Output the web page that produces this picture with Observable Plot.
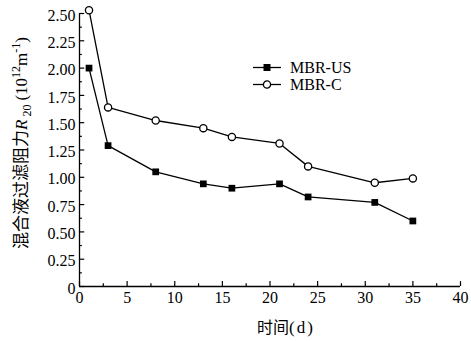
<!DOCTYPE html>
<html>
<head>
<meta charset="utf-8">
<script src="https://cdn.jsdelivr.net/npm/d3@7"></script>
<script src="https://cdn.jsdelivr.net/npm/@observablehq/plot@0.6"></script>
<style>
  html, body { margin: 0; padding: 0; background: #fff; }
  #chart { width: 471px; height: 341px; }
</style>
</head>
<body>
<div id="chart"></div>
<script>
const days = [1, 3, 8, 13, 16, 21, 24, 31, 35];
const mbrUS = [2.00, 1.29, 1.05, 0.94, 0.90, 0.94, 0.82, 0.77, 0.60];
const mbrC = [2.53, 1.64, 1.52, 1.45, 1.37, 1.31, 1.10, 0.95, 0.99];
const seriesNames = ["MBR-US", "MBR-C"];
const xTicks = [0, 5, 10, 15, 20, 25, 30, 35, 40];
const xMinorTicks = [2.5, 7.5, 12.5, 17.5, 22.5, 27.5, 32.5, 37.5];
const yTicks = [0, 0.25, 0.5, 0.75, 1.0, 1.25, 1.5, 1.75, 2.0, 2.25, 2.5];
const yMinorTicks = [0.125, 0.375, 0.625, 0.875, 1.125, 1.375, 1.625, 1.875, 2.125, 2.375];
const xTitleCJK = "时间";
const xTitleUnit = "(d)";

const us = days.map((d, i) => ({day: d, value: mbrUS[i]}));
const c = days.map((d, i) => ({day: d, value: mbrC[i]}));

const serif = "'Liberation Serif', 'Times New Roman', serif";
const cjk = "'Noto Sans CJK SC', sans-serif";

const plot = Plot.plot({
  width: 471,
  height: 341,
  marginLeft: 79,
  marginRight: 11,
  marginTop: 13,
  marginBottom: 55,
  style: {fontFamily: serif, fontSize: "16px", color: "#000", background: "#fff", overflow: "visible"},
  x: {domain: [0, 40]},
  y: {domain: [0, 2.5]},
  marks: [
    Plot.axisX({ticks: xTicks, tickSize: 0, tickPadding: 5, label: null, fontSize: 16, fill: "#000"}),
    Plot.axisY({ticks: yTicks, tickSize: 0, tickPadding: 4, label: null, fontSize: 16, fill: "#000",
      tickFormat: d => d === 0 ? "0" : d.toFixed(2), dy: 2}),
    Plot.ruleX(xTicks, {x: d => d, y1: 0, y2: 0.045, stroke: "#000", strokeWidth: 1.2}),
    Plot.ruleX(xMinorTicks, {x: d => d, y1: 0, y2: 0.025, stroke: "#000", strokeWidth: 1.2}),
    Plot.ruleY(yTicks, {y: d => d, x1: 0, x2: 0.55, stroke: "#000", strokeWidth: 1.2}),
    Plot.ruleY(yMinorTicks, {y: d => d, x1: 0, x2: 0.3, stroke: "#000", strokeWidth: 1.2}),
    Plot.ruleX([0], {stroke: "#000", strokeWidth: 1.3}),
    Plot.ruleY([0], {stroke: "#000", strokeWidth: 1.3}),
    Plot.line(us, {x: "day", y: "value", stroke: "#000", strokeWidth: 1.3}),
    Plot.line(c, {x: "day", y: "value", stroke: "#000", strokeWidth: 1.3}),
    Plot.dot(us, {x: "day", y: "value", symbol: "square", r: 3.8, fill: "#000", stroke: "none"}),
    Plot.dot(c, {x: "day", y: "value", symbol: "circle", r: 3.6, fill: "#fff", stroke: "#000", strokeWidth: 1.3})
  ]
});

const svg = d3.select(plot);

// X axis title
const xt = svg.append("text")
  .attr("x", 286).attr("y", 333)
  .attr("text-anchor", "middle")
  .attr("font-size", 16)
  .attr("fill", "#000");
xt.append("tspan").attr("font-family", cjk).text(xTitleCJK);
xt.append("tspan").attr("font-family", serif).attr("font-size", 17).attr("letter-spacing", 2).text(xTitleUnit);

// Y axis title
const yt = svg.append("text")
  .attr("transform", "translate(27,143) rotate(-90)")
  .attr("text-anchor", "middle")
  .attr("font-size", 17)
  .attr("fill", "#000");
yt.append("tspan").attr("font-family", cjk).text("混合液过滤阻力");
yt.append("tspan").attr("font-family", serif).attr("font-style", "italic").text("R");
yt.append("tspan").attr("font-family", serif).attr("font-size", 12).attr("dy", 4).attr("dx", 3).text("20");
yt.append("tspan").attr("font-family", serif).attr("dy", -4).attr("dx", 4).text("(10");
yt.append("tspan").attr("font-family", serif).attr("font-size", 12).attr("dy", -7).text("12");
yt.append("tspan").attr("font-family", serif).attr("dy", 7).text("m");
yt.append("tspan").attr("font-family", serif).attr("font-size", 12).attr("dy", -7).text("-1");
yt.append("tspan").attr("font-family", serif).attr("dy", 7).text(")");

// Legend
const legend = svg.append("g").attr("transform", "translate(253,67.5)");
seriesNames.forEach((name, i) => {
  const g = legend.append("g").attr("transform", `translate(0,${i * 17})`);
  g.append("line").attr("x1", 0).attr("x2", 28).attr("y1", 0).attr("y2", 0)
    .attr("stroke", "#000").attr("stroke-width", 1.3);
  if (i === 0) {
    g.append("rect").attr("x", 10.5).attr("y", -3.5).attr("width", 7).attr("height", 7).attr("fill", "#000");
  } else {
    g.append("circle").attr("cx", 14).attr("cy", 0).attr("r", 3.6)
      .attr("fill", "#fff").attr("stroke", "#000").attr("stroke-width", 1.3);
  }
  g.append("text").attr("x", 37).attr("y", 5.5).attr("text-anchor", "start")
    .attr("font-family", serif).attr("font-size", 16).attr("fill", "#000").text(name);
});

document.getElementById("chart").appendChild(plot);
</script>
</body>
</html>
